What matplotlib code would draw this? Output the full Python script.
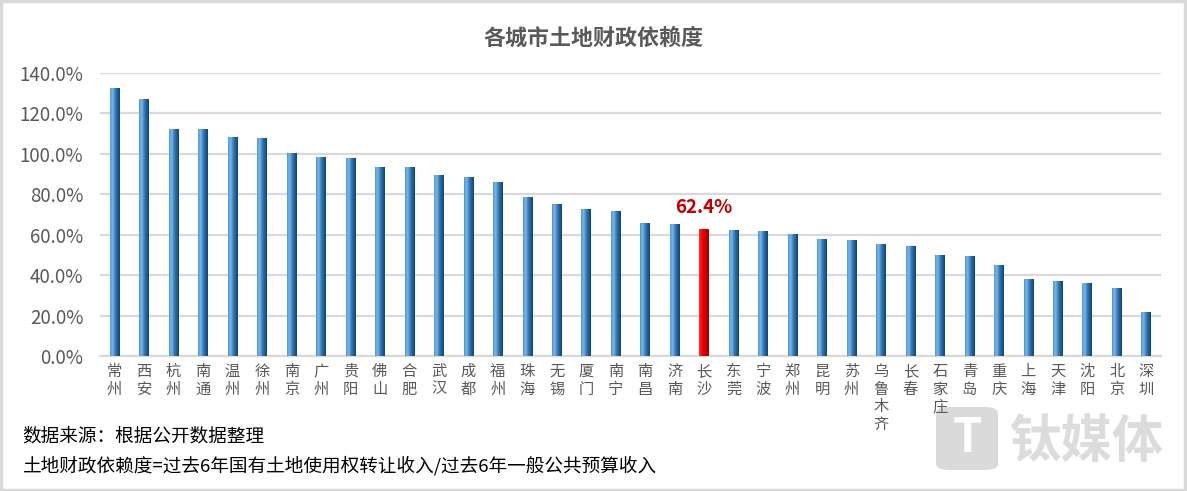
import matplotlib
matplotlib.use('Agg')
import matplotlib.pyplot as plt
import numpy as np
from matplotlib.colors import LinearSegmentedColormap
from matplotlib.patches import FancyBboxPatch, Rectangle

plt.rcParams['font.family'] = ['Noto Sans CJK SC', 'DejaVu Sans']

cities = ['常州', '西安', '杭州', '南通', '温州', '徐州', '南京', '广州', '贵阳', '佛山',
          '合肥', '武汉', '成都', '福州', '珠海', '无锡', '厦门', '南宁', '南昌', '济南',
          '长沙', '东莞', '宁波', '郑州', '昆明', '苏州', '乌鲁木齐', '长春', '石家庄', '青岛',
          '重庆', '上海', '天津', '沈阳', '北京', '深圳']
ratio = [132.3, 127.0, 112.0, 112.0, 108.2, 107.7, 100.0, 98.0, 97.5, 93.2,
         93.2, 89.3, 88.3, 85.8, 78.1, 75.1, 72.3, 71.3, 65.6, 65.1,
         62.4, 62.2, 61.6, 59.8, 57.8, 57.3, 55.3, 53.9, 49.9, 49.4,
         44.6, 37.9, 36.9, 35.9, 33.6, 21.4]
highlight = '长沙'
yticks = [0, 20, 40, 60, 80, 100, 120, 140]

grey = '#595959'
blue_cm = LinearSegmentedColormap.from_list(
    'b', [(0, '#4f97d4'), (0.25, '#7db7e4'), (0.6, '#2f72b0'), (1, '#0e4474')])
red_cm = LinearSegmentedColormap.from_list(
    'r', [(0, '#ff3030'), (0.35, '#f00000'), (1, '#a80000')])

fig = plt.figure(figsize=(11.87, 4.91), dpi=100)
ax = fig.add_axes([0.0842, 0.275, 0.8938, 0.577])
ax.set_facecolor('none')
ax.set_zorder(2)

x = np.arange(len(cities))
bars = ax.bar(x, ratio, width=0.32, color='none', zorder=3)
grad = np.linspace(0, 1, 64).reshape(1, -1)
for b, name in zip(bars, cities):
    cm = red_cm if name == highlight else blue_cm
    x0, w, h = b.get_x(), b.get_width(), b.get_height()
    ax.imshow(grad, cmap=cm, extent=(x0, x0 + w, 0, h), aspect='auto', zorder=3)

i = cities.index(highlight)
ax.text(x[i], ratio[i] + 6.5, f'{ratio[i]:.1f}%', ha='center', va='bottom',
        color='#c00000', fontsize=13.5, fontweight='bold')

ax.set_xlim(-0.5, len(cities) - 0.5)
ax.set_ylim(0, 140)
ax.set_yticks(yticks)
ax.set_yticklabels([f'{v:.1f}%' for v in yticks], fontsize=13.5, color=grey)
ax.set_xticks(x)
ax.set_xticklabels(['\n'.join(c) for c in cities], fontsize=11, color=grey,
                   linespacing=1.05, va='top')
ax.tick_params(length=0)
ax.tick_params(axis='y', pad=12)
ax.tick_params(axis='x', pad=5)
ax.grid(axis='y', color='#d9d9d9', lw=1.6, zorder=0)
for s in ['top', 'right', 'left']:
    ax.spines[s].set_visible(False)
ax.spines['bottom'].set_color('#d9d9d9')
ax.spines['bottom'].set_linewidth(1.6)

fig.text(0.5, 0.922, '各城市土地财政依赖度', ha='center', va='center',
         fontsize=15.8, fontweight='bold', color=grey)
fig.text(0.0185, 0.112, '数据来源：根据公开数据整理', ha='left', va='center',
         fontsize=13.4, color='black')
fig.text(0.0185, 0.051, '土地财政依赖度=过去6年国有土地使用权转让收入/过去6年一般公共预算收入',
         ha='left', va='center', fontsize=13.4, color='black')

# watermark, behind the axes
fig.patches.append(FancyBboxPatch((936 / 1187, 21 / 491), 62 / 1187, 63 / 491,
                                  boxstyle='round,pad=0,rounding_size=0.012',
                                  transform=fig.transFigure, fc='#dadada', ec='none',
                                  zorder=-2))
fig.text(967 / 1187, 53 / 491, 'T', ha='center', va='center', fontsize=34,
         fontweight='bold', style='italic', color='white', zorder=-1)
fig.text(1087 / 1187, 50 / 491, '钛媒体', ha='center', va='center', fontsize=37,
         fontweight='bold', color='#dcdcdc', zorder=-1)

fig.patches.append(Rectangle((0.001, 0.002), 0.997, 0.995, transform=fig.transFigure,
                             fill=False, ec='#d9d9d9', lw=2.5))

fig.savefig('out.png', dpi=100)
